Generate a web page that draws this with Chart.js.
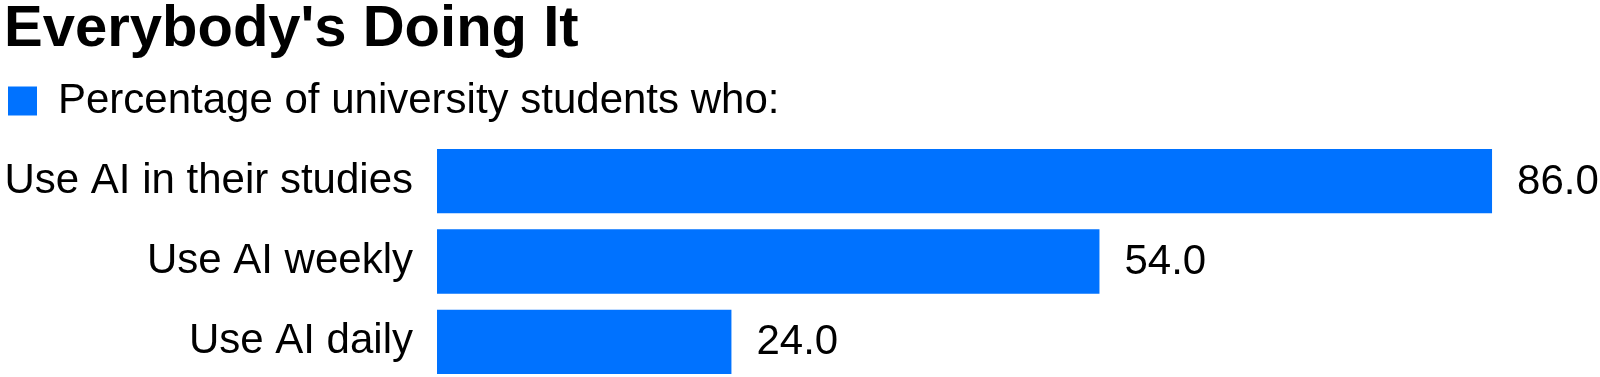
<!DOCTYPE html>
<html>
<head>
<meta charset="utf-8">
<title>Everybody's Doing It</title>
<script src="https://cdn.jsdelivr.net/npm/chart.js@4.4.1/dist/chart.umd.min.js"></script>
<style>
    html, body {
        margin: 0;
        padding: 0;
        background: #ffffff;
        overflow: hidden;
    }
    #wrap {
        position: relative;
        width: 1600px;
        height: 382px;
    }
</style>
</head>
<body>
<div id="wrap"><canvas id="myChart"></canvas></div>
<script>
var categorias = ['Use AI in their studies', 'Use AI weekly', 'Use AI daily'];
var valores = [86.0, 54.0, 24.0];
var serieNome = 'Percentage of university students who:';
var titulo = "Everybody's Doing It";

var azul = '#0072ff';
var fonte = "'Liberation Sans', Arial, Helvetica, sans-serif";

// escreve o valor ao lado de cada barra
var rotuloValores = {
    id: 'rotuloValores',
    afterDatasetsDraw: function(chart) {
        var ctx = chart.ctx;
        var meta = chart.getDatasetMeta(0);
        ctx.save();
        ctx.font = '42px ' + fonte;
        ctx.fillStyle = '#000000';
        ctx.textAlign = 'left';
        ctx.textBaseline = 'middle';
        meta.data.forEach(function(bar, i) {
            ctx.fillText(valores[i].toFixed(1), bar.x + 25, bar.y + 1);
        });
        ctx.restore();
    }
};

// espaco extra entre legenda e barras
var espacoLegenda = {
    id: 'espacoLegenda',
    beforeInit: function(chart) {
        var fitOriginal = chart.legend.fit;
        chart.legend.fit = function() {
            fitOriginal.bind(chart.legend)();
            this.height += 9;
        };
    }
};

function montarGrafico() {
    var ctx = document.getElementById('myChart').getContext('2d');
    return new Chart(ctx, {
        type: 'bar',
        data: {
            labels: categorias,
            datasets: [{
                label: serieNome,
                data: valores,
                backgroundColor: azul,
                borderWidth: 0,
                barPercentage: 1,
                categoryPercentage: 0.8
            }]
        },
        options: {
            indexAxis: 'y',
            responsive: true,
            maintainAspectRatio: false,
            animation: false,
            layout: {
                padding: { left: 4, right: 0, top: 0, bottom: 0 }
            },
            scales: {
                x: {
                    display: false,
                    min: 0,
                    max: 94.8
                },
                y: {
                    grid: { display: false, drawTicks: false },
                    border: { display: false },
                    ticks: {
                        color: '#000000',
                        padding: 24,
                        font: { family: fonte, size: 42 }
                    },
                    afterFit: function(scale) {
                        scale.width = 433;
                        scale.paddingTop = 0;
                        scale.paddingBottom = 0;
                    }
                }
            },
            plugins: {
                title: {
                    display: true,
                    text: titulo,
                    align: 'start',
                    color: '#000000',
                    font: { family: fonte, size: 58, weight: 'bold', lineHeight: 1 },
                    padding: { top: 1, bottom: 17 }
                },
                legend: {
                    display: true,
                    position: 'top',
                    align: 'start',
                    labels: {
                        color: '#000000',
                        boxWidth: 29,
                        boxHeight: 29,
                        padding: 4,
                        font: { family: fonte, size: 42 }
                    }
                },
                tooltip: { enabled: false }
            }
        },
        plugins: [rotuloValores, espacoLegenda]
    });
}

var myChart = montarGrafico();
</script>
</body>
</html>
